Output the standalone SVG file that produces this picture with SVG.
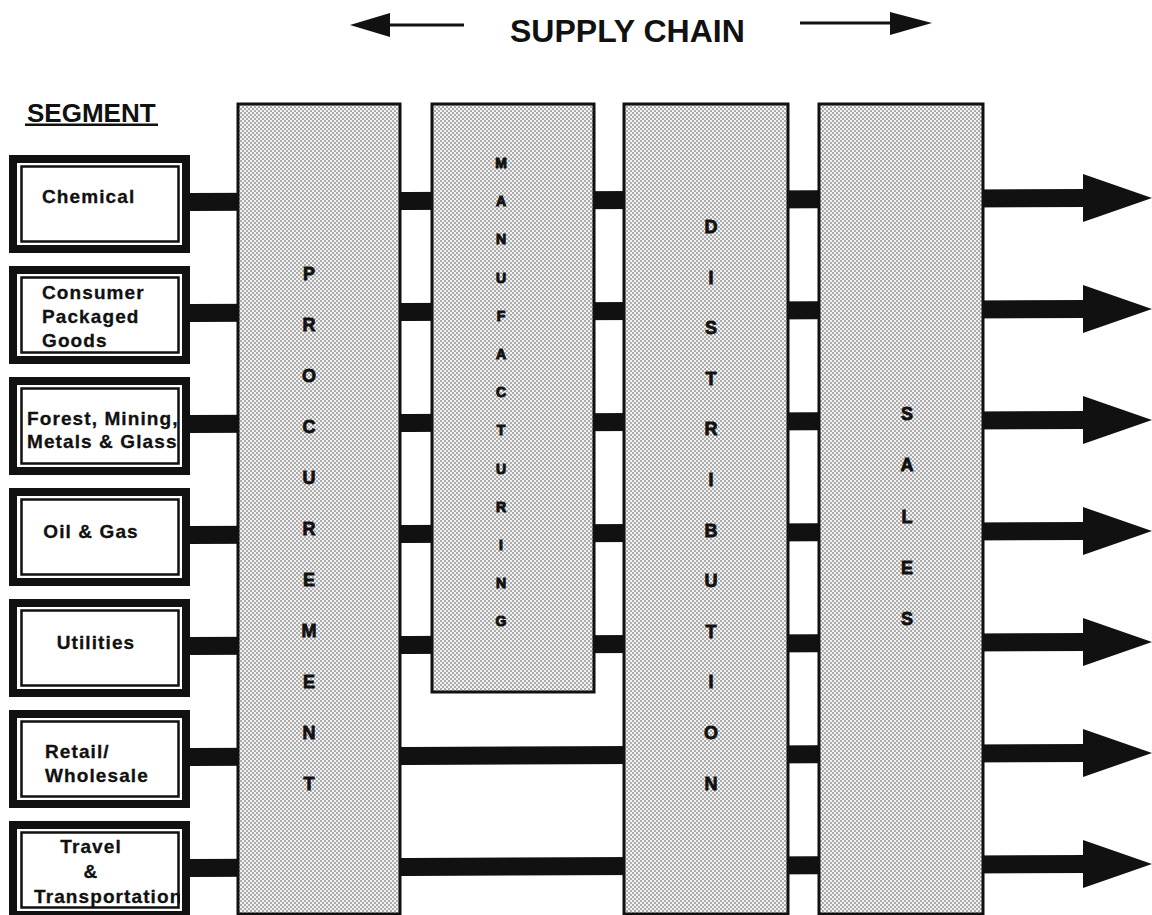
<svg xmlns="http://www.w3.org/2000/svg" width="1152" height="915" viewBox="0 0 1152 915">
  <defs>
    <pattern id="dots" width="4" height="4" patternUnits="userSpaceOnUse">
      <rect width="4" height="4" fill="#f2f2f2"/>
      <circle cx="1" cy="1" r="0.75" fill="#444"/>
      <circle cx="3" cy="3" r="0.75" fill="#444"/>
    </pattern>
    <clipPath id="boxclip" clipPathUnits="userSpaceOnUse">
      <rect x="0" y="0" width="180" height="915"/>
    </clipPath>
  </defs>
  <style>
    text { font-family: "Liberation Sans", Arial, Helvetica, sans-serif; font-weight: bold; fill: #111; }
    .seg { font-size: 19px; letter-spacing: 1.1px; stroke: #111; stroke-width: 0.3; }
    .col { fill: url(#dots); stroke: #111; stroke-width: 3; }
    .big { font-size: 18px; text-anchor: middle; stroke: #111; stroke-width: 0.8; }
    .small { font-size: 14px; text-anchor: middle; stroke: #111; stroke-width: 1; }
    .frame { fill: #111; }
    .inner { fill: #fff; }
    .thin { fill: none; stroke: #111; stroke-width: 2.5; }
    .bar { stroke: #111; stroke-width: 18; fill: none; }
    .head { fill: #111; }
  </style>

  <!-- Title -->
  <g id="title">
    <line x1="388" y1="25" x2="464" y2="25" stroke="#111" stroke-width="3"/>
    <polygon points="350,25 390,13 390,37" fill="#111"/>
    <text x="510" y="42" style="font-size:32px">SUPPLY CHAIN</text>
    <line x1="800" y1="23" x2="892" y2="23" stroke="#111" stroke-width="3"/>
    <polygon points="932,23 890,12 890,35" fill="#111"/>
  </g>

  <g id="segment-heading">
    <text x="27" y="122" style="font-size:26px">SEGMENT</text>
    <rect x="25" y="123.5" width="133" height="2.5" fill="#111"/>
  </g>

  <!-- Connectors -->
  <g id="connectors">
    <line class="bar" x1="190" y1="202" x2="1086" y2="198"/>
    <polygon class="head" points="1083,174 1152,198 1083,222"/>
    <line class="bar" x1="190" y1="313" x2="1086" y2="309"/>
    <polygon class="head" points="1083,285 1152,309 1083,333"/>
    <line class="bar" x1="190" y1="424" x2="1086" y2="420"/>
    <polygon class="head" points="1083,396 1152,420 1083,444"/>
    <line class="bar" x1="190" y1="535" x2="1086" y2="531"/>
    <polygon class="head" points="1083,507 1152,531 1083,555"/>
    <line class="bar" x1="190" y1="646" x2="1086" y2="642"/>
    <polygon class="head" points="1083,618 1152,642 1083,666"/>
    <line class="bar" x1="190" y1="757" x2="1086" y2="753"/>
    <polygon class="head" points="1083,729 1152,753 1083,777"/>
    <line class="bar" x1="190" y1="868" x2="1086" y2="864"/>
    <polygon class="head" points="1083,840 1152,864 1083,888"/>
  </g>

  <!-- Columns -->
  <g id="procurement">
    <rect class="col" x="238" y="104" width="162" height="810"/>
    <text class="big" x="309" y="280">P</text>
    <text class="big" x="309" y="331">R</text>
    <text class="big" x="309" y="382">O</text>
    <text class="big" x="309" y="433">C</text>
    <text class="big" x="309" y="484">U</text>
    <text class="big" x="309" y="535">R</text>
    <text class="big" x="309" y="586">E</text>
    <text class="big" x="309" y="637">M</text>
    <text class="big" x="309" y="688">E</text>
    <text class="big" x="309" y="739">N</text>
    <text class="big" x="309" y="790">T</text>
  </g>

  <g id="manufacturing">
    <rect class="col" x="432" y="104" width="162" height="588"/>
    <text class="small" x="501" y="168">M</text>
    <text class="small" x="501" y="206">A</text>
    <text class="small" x="501" y="244">N</text>
    <text class="small" x="501" y="283">U</text>
    <text class="small" x="501" y="321">F</text>
    <text class="small" x="501" y="359">A</text>
    <text class="small" x="501" y="397">C</text>
    <text class="small" x="501" y="435">T</text>
    <text class="small" x="501" y="474">U</text>
    <text class="small" x="501" y="512">R</text>
    <text class="small" x="501" y="550">I</text>
    <text class="small" x="501" y="588">N</text>
    <text class="small" x="501" y="626">G</text>
  </g>

  <g id="distribution">
    <rect class="col" x="624" y="104" width="164" height="810"/>
    <text class="big" x="711" y="233">D</text>
    <text class="big" x="711" y="284">I</text>
    <text class="big" x="711" y="334">S</text>
    <text class="big" x="711" y="385">T</text>
    <text class="big" x="711" y="435">R</text>
    <text class="big" x="711" y="486">I</text>
    <text class="big" x="711" y="537">B</text>
    <text class="big" x="711" y="587">U</text>
    <text class="big" x="711" y="638">T</text>
    <text class="big" x="711" y="688">I</text>
    <text class="big" x="711" y="739">O</text>
    <text class="big" x="711" y="790">N</text>
  </g>

  <g id="sales">
    <rect class="col" x="819" y="104" width="164" height="810"/>
    <text class="big" x="907" y="420">S</text>
    <text class="big" x="907" y="471">A</text>
    <text class="big" x="907" y="523">L</text>
    <text class="big" x="907" y="574">E</text>
    <text class="big" x="907" y="625">S</text>
  </g>

  <!-- Segment boxes -->
  <g id="seg-chemical">
    <rect class="frame" x="9" y="155" width="181" height="98"/>
    <rect class="inner" x="17" y="163" width="165" height="82"/>
    <text class="seg" x="42" y="203">Chemical</text>
    <rect class="thin" x="21.5" y="166.5" width="157" height="75"/>
  </g>

  <g id="seg-consumer">
    <rect class="frame" x="9" y="266" width="181" height="98"/>
    <rect class="inner" x="17" y="274" width="165" height="82"/>
    <g clip-path="url(#boxclip)">
      <text class="seg" x="42" y="299">Consumer</text>
      <text class="seg" x="42" y="323">Packaged</text>
      <text class="seg" x="42" y="347">Goods</text>
    </g>
    <rect class="thin" x="21.5" y="277.5" width="157" height="75"/>
  </g>

  <g id="seg-forest">
    <rect class="frame" x="9" y="377" width="181" height="98"/>
    <rect class="inner" x="17" y="385" width="165" height="82"/>
    <g clip-path="url(#boxclip)">
      <text class="seg" x="27" y="425">Forest, Mining,</text>
      <text class="seg" x="27" y="448">Metals &amp; Glass</text>
    </g>
    <rect class="thin" x="21.5" y="388.5" width="157" height="75"/>
  </g>

  <g id="seg-oilgas">
    <rect class="frame" x="9" y="488" width="181" height="98"/>
    <rect class="inner" x="17" y="496" width="165" height="82"/>
    <text class="seg" x="91" y="538" text-anchor="middle">Oil &amp; Gas</text>
    <rect class="thin" x="21.5" y="499.5" width="157" height="75"/>
  </g>

  <g id="seg-utilities">
    <rect class="frame" x="9" y="599" width="181" height="98"/>
    <rect class="inner" x="17" y="607" width="165" height="82"/>
    <text class="seg" x="96" y="649" text-anchor="middle">Utilities</text>
    <rect class="thin" x="21.5" y="610.5" width="157" height="75"/>
  </g>

  <g id="seg-retail">
    <rect class="frame" x="9" y="710" width="181" height="98"/>
    <rect class="inner" x="17" y="718" width="165" height="82"/>
    <text class="seg" x="45" y="758">Retail/</text>
    <text class="seg" x="45" y="782">Wholesale</text>
    <rect class="thin" x="21.5" y="721.5" width="157" height="75"/>
  </g>

  <g id="seg-travel">
    <rect class="frame" x="9" y="821" width="181" height="98"/>
    <rect class="inner" x="17" y="829" width="165" height="82"/>
    <g clip-path="url(#boxclip)">
      <text class="seg" x="91" y="853" text-anchor="middle">Travel</text>
      <text class="seg" x="91" y="878" text-anchor="middle">&amp;</text>
      <text class="seg" x="34" y="903">Transportation</text>
    </g>
    <rect class="thin" x="21.5" y="832.5" width="157" height="75"/>
  </g>
</svg>
